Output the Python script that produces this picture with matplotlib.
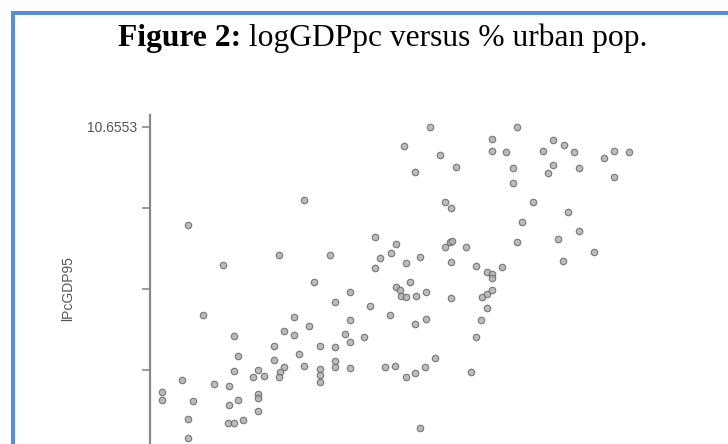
import matplotlib
matplotlib.use('Agg')
import matplotlib.pyplot as plt
from matplotlib.lines import Line2D

# % urban population (x) and log GDP per capita 1995 (y)
urban = [56.1, 50.9, 58.1, 53.1, 61.2, 68.5, 73.4, 68.5, 71.3, 72.5,
         72.5, 80.5, 82.7, 78.5, 84.7, 80.5, 79.5, 85.7, 90.7, 92.8,
         95.8, 92.8, 59.1, 60.3, 76.5, 83.6, 74.4, 85.7, 81.5, 73.3,
         88.7, 82.5, 45.0, 49.1, 48.1, 46.0, 45.0, 51.1, 54.1, 60.1,
         60.4, 59.1, 63.3, 60.3, 65.3, 70.5, 67.5, 68.5, 68.5, 52.1,
         49.1, 50.0, 50.1, 51.2, 53.2, 55.3, 60.2, 66.4, 67.4, 68.5,
         67.4, 66.3, 44.0, 48.0, 53.1, 55.2, 42.9, 65.3, 57.1, 47.0,
         49.0, 51.1, 53.1, 55.1, 64.3, 54.1,
         7.5, 30.7, 14.6, 25.8, 35.9, 32.7, 39.9, 36.9, 10.5, 28.7,
         39.9, 31.8, 26.7, 28.7, 38.9, 40.0, 16.7, 24.7, 33.9, 36.9,
         17.5, 24.7, 29.8, 36.9, 36.9, 39.9, 30.8, 33.9, 33.9, 33.9,
         26.7, 26.0, 25.7, 16.7, 21.5, 20.7, 22.7, 6.3, 12.7, 15.7,
         2.3, 2.3, 8.5, 21.5, 21.5, 17.5, 15.7, 21.5, 7.5, 18.5,
         15.5, 16.7, 7.5]
lpcgdp = [10.6553, 10.39, 10.26, 10.02, 10.09, 10.49, 10.65, 10.32, 10.31, 10.08,
          9.87, 10.47, 10.40, 10.32, 10.30, 10.13, 10.01, 10.08, 10.22, 10.32,
          10.30, 9.95, 9.60, 9.52, 9.60, 9.47, 9.32, 9.20, 9.09, 9.05,
          8.90, 8.78, 9.12, 9.02, 8.89, 8.82, 8.68, 8.75, 8.83, 9.04,
          9.06, 8.98, 8.98, 8.77, 8.71, 8.69, 8.63, 8.60, 8.54, 8.48,
          8.42, 8.37, 8.29, 8.27, 8.29, 8.34, 8.26, 8.27, 8.32, 8.37,
          8.12, 7.96, 8.15, 8.03, 7.90, 7.97, 7.72, 7.71, 7.42, 7.29,
          7.31, 7.16, 7.21, 7.29, 7.23, 6.44,
          9.28, 9.64, 8.73, 8.87, 8.87, 8.49, 8.34, 8.21, 8.03, 7.99,
          7.95, 7.87, 7.80, 7.74, 7.76, 7.64, 7.73, 7.59, 7.59, 7.57,
          7.45, 7.39, 7.48, 7.38, 7.30, 7.28, 7.31, 7.27, 7.18, 7.09,
          7.29, 7.22, 7.15, 7.24, 7.25, 7.15, 7.17, 7.11, 7.06, 7.03,
          6.95, 6.83, 6.82, 6.92, 6.86, 6.84, 6.77, 6.68, 6.57, 6.55,
          6.51, 6.51, 6.30]

y_max = 10.6553
y_step = 1.134
y_ticks = [y_max - i * y_step for i in range(5)]
y_ticklabels = ['10.6553', '', '', '', '']  # bottom label falls below the crop

fig = plt.figure(figsize=(7.28, 4.44), dpi=100)
W, H = 728.0, 444.0

# blue frame of the page (left and top edges only are in view)
blue = '#5b8ed6'
fig.add_artist(Line2D([13 / W, 13 / W], [0, 1 - 11 / H], color=blue, lw=2.9,
                      transform=fig.transFigure, solid_capstyle='butt'))
fig.add_artist(Line2D([11 / W, 1], [1 - 13 / H, 1 - 13 / H], color=blue, lw=2.9,
                      transform=fig.transFigure, solid_capstyle='butt'))

# axes: left spine at x=150px, spine top at y=115px, bottom below the image
ax = fig.add_axes([150 / W, (H - 470) / H, 550 / W, 355 / H])
ax.set_xlim(0, 110)
ax.set_ylim(y_max - (470 - 127) * 0.014, y_max + 12 * 0.014)
ax.patch.set_alpha(0)

ax.scatter(urban, lpcgdp, s=22, facecolor='#b0b0b0', edgecolor='#666666',
           linewidths=0.8, alpha=0.85, zorder=3, clip_on=False)

for s in ['top', 'right', 'bottom']:
    ax.spines[s].set_visible(False)
ax.spines['left'].set_color('#8a8a8a')
ax.spines['left'].set_linewidth(1.6)
ax.set_xticks([])
ax.set_yticks(y_ticks)
ax.set_yticklabels(y_ticklabels, fontsize=10, color='#555555', family='Liberation Sans')
ax.tick_params(axis='y', length=6, width=1.1, color='#808080', pad=3.5)

fig.text(68 / W, 1 - 289 / H, 'lPcGDP95', rotation=90, ha='center', va='center',
         fontsize=10, color='#555555', family='Liberation Sans')

# title: bold "Figure 2:" then regular text, fitted to the reference width
size = 22
base = 1 - 46 / H
t1 = fig.text(0, base, 'Figure 2:', fontsize=size, fontweight='bold',
              family='Liberation Serif', va='baseline', ha='left')
t2 = fig.text(0, base, ' logGDPpc versus % urban pop.', fontsize=size,
              family='Liberation Serif', va='baseline', ha='left')
r = fig.canvas.get_renderer()
w = t1.get_window_extent(r).width + t2.get_window_extent(r).width
size = size * 528.0 / w
t1.set_fontsize(size)
t2.set_fontsize(size)
w1 = t1.get_window_extent(r).width
x0 = 118
t1.set_x(x0 / W)
t2.set_x((x0 + w1) / W)

fig.savefig('out.png', dpi=100)
